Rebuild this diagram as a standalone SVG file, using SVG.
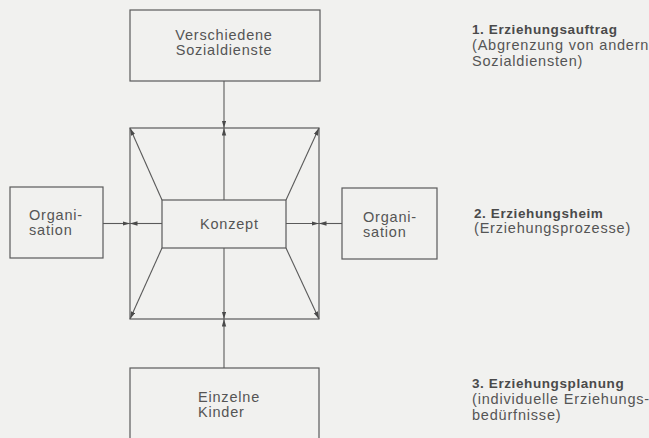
<svg xmlns="http://www.w3.org/2000/svg" width="649" height="438" viewBox="0 0 649 438">
<style>
.box{fill:none;stroke:#5a5a5a;stroke-width:1.2}
.ln{fill:none;stroke:#5a5a5a;stroke-width:1.1}
.t{font-family:"Liberation Sans",Arial,sans-serif;font-size:14.5px;fill:#555;letter-spacing:0.8px}
.h{font-family:"Liberation Sans",Arial,sans-serif;font-size:13.5px;font-weight:bold;fill:#4a4a4a;letter-spacing:0.6px}
</style>
<defs>
<marker id="ah" markerUnits="userSpaceOnUse" markerWidth="8" markerHeight="5" refX="7.5" refY="2.2" orient="auto">
<path d="M0,0 L7.5,2.2 L0,4.4 z" fill="#4a4a4a"/>
</marker>
</defs>
<rect width="649" height="438" fill="#f1f1ef"/>
<g id="connectors">
<line class="ln" x1="224" y1="81" x2="224" y2="128" marker-end="url(#ah)"/>
<line class="ln" x1="224" y1="200" x2="224" y2="128" marker-end="url(#ah)"/>
<line class="ln" x1="224" y1="368" x2="224" y2="319" marker-end="url(#ah)"/>
<line class="ln" x1="224" y1="248" x2="224" y2="319" marker-end="url(#ah)"/>
<line class="ln" x1="103" y1="223.5" x2="130" y2="223.5" marker-end="url(#ah)"/>
<line class="ln" x1="162" y1="223.5" x2="130" y2="223.5" marker-end="url(#ah)"/>
<line class="ln" x1="342" y1="223.5" x2="319" y2="223.5" marker-end="url(#ah)"/>
<line class="ln" x1="286" y1="223.5" x2="319" y2="223.5" marker-end="url(#ah)"/>
<line class="ln" x1="162" y1="200" x2="130" y2="128" marker-end="url(#ah)"/>
<line class="ln" x1="286" y1="200" x2="319" y2="128" marker-end="url(#ah)"/>
<line class="ln" x1="162" y1="248" x2="130" y2="319" marker-end="url(#ah)"/>
<line class="ln" x1="286" y1="248" x2="319" y2="319" marker-end="url(#ah)"/>
</g>
<g id="frame">
<rect class="box" x="130" y="128" width="189" height="191"/>
</g>
<g id="sozialdienste">
<rect class="box" x="130" y="10" width="190" height="71"/>
<text class="t" x="224" y="40" text-anchor="middle">Verschiedene</text>
<text class="t" x="224" y="55" text-anchor="middle">Sozialdienste</text>
</g>
<g id="konzept">
<rect class="box" x="162" y="200" width="124" height="48"/>
<text class="t" x="200" y="229">Konzept</text>
</g>
<g id="organisation-left">
<rect class="box" x="10" y="187" width="93" height="71"/>
<text class="t" x="29" y="220">Organi-</text>
<text class="t" x="29" y="235">sation</text>
</g>
<g id="organisation-right">
<rect class="box" x="342" y="188" width="95" height="71"/>
<text class="t" x="363" y="222">Organi-</text>
<text class="t" x="363" y="237">sation</text>
</g>
<g id="kinder">
<rect class="box" x="130" y="368" width="189" height="80"/>
<text class="t" x="198" y="402">Einzelne</text>
<text class="t" x="198" y="417">Kinder</text>
</g>
<g id="legend">
<text class="h" x="472" y="34">1. Erziehungsauftrag</text>
<text class="t" x="472" y="50">(Abgrenzung von andern</text>
<text class="t" x="472" y="65.5">Sozialdiensten)</text>
<text class="h" x="474" y="217.5">2. Erziehungsheim</text>
<text class="t" x="474" y="233">(Erziehungsprozesse)</text>
<text class="h" x="472" y="388">3. Erziehungsplanung</text>
<text class="t" x="472" y="404">(individuelle Erziehungs-</text>
<text class="t" x="472" y="420">bedürfnisse)</text>
</g>
</svg>
